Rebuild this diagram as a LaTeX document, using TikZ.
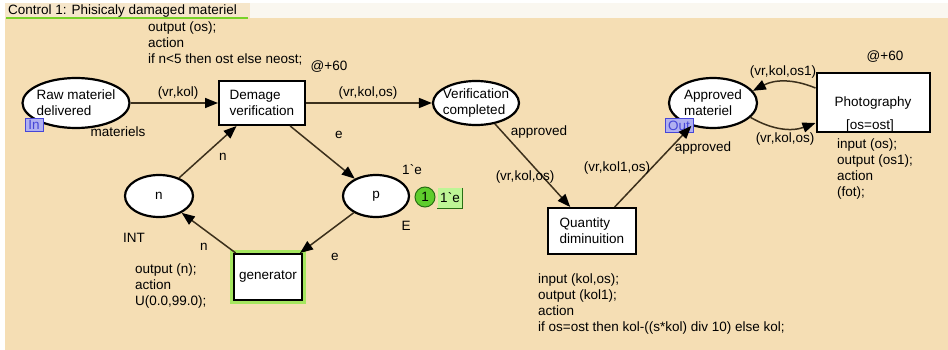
\documentclass[tikz,border=0pt]{standalone}
\usepackage{fontspec}
\setmainfont{Liberation Sans}
\usetikzlibrary{arrows.meta, shapes.geometric, positioning}

\definecolor{netbg}{RGB}{245,222,180}
\definecolor{tabbg}{RGB}{246,230,202}
\definecolor{stripbg}{RGB}{250,247,240}
\definecolor{tabline}{RGB}{120,210,40}
\definecolor{arcline}{RGB}{60,48,28}
\definecolor{portfill}{RGB}{176,176,240}
\definecolor{portblue}{RGB}{70,70,215}
\definecolor{tokgreen}{RGB}{95,205,45}
\definecolor{tokdark}{RGB}{40,110,20}
\definecolor{markfill}{RGB}{190,245,150}
\definecolor{glow}{RGB}{165,230,95}

\tikzset{
  every node/.style={font=\fontsize{13.5}{16}\selectfont, inner sep=0pt},
  place/.style={ellipse, draw=black, line width=2.2pt, fill=white},
  trans/.style={rectangle, draw=black, line width=2pt, fill=white, align=left},
  arc/.style={draw=arcline, line width=1.5pt, -{Triangle[length=13pt,width=10pt,color=black]}},
  port/.style={draw=portblue, fill=portfill, text=portblue, line width=1pt},
  code/.style={align=left, anchor=north west},
}

\begin{document}
\begin{tikzpicture}[x=1pt,y=-1pt]
\useasboundingbox (0,0) rectangle (948,350);
\fill[stripbg] (5,3) rectangle (948,18);
\fill[netbg] (5,18) rectangle (948,350);
\fill[tabbg] (5,3) rectangle (250,18);
\draw[tabline, line width=2pt] (6,18) -- (248,18);
\node[anchor=west] (title) at (8,11) {Control 1: Phisicaly damaged materiel};

% places
\node[place, minimum width=107pt, minimum height=50pt,
  label={[align=left]center:Raw materiel\\delivered}] (raw) at (76,103) {};
\node[place, minimum width=86pt, minimum height=44pt,
  label={[align=left]center:Verification\\completed}] (ver) at (476,103) {};
\node[place, minimum width=88pt, minimum height=50pt,
  label={[align=left]center:Approved\\materiel}] (appr) at (713,103) {};
\node[place, minimum width=68pt, minimum height=42pt] (n) at (159,196) {n};
\node[place, minimum width=66pt, minimum height=42pt] (p) at (376,196) {p};

% transitions
\node[trans, minimum width=86pt, minimum height=44pt] (dem) at (262,103) {Demage\\verification};
\node[trans, minimum width=88pt, minimum height=46pt] (qty) at (592,231) {Quantity\\diminuition};
\node[trans, minimum width=68pt, minimum height=46pt,
  preaction={draw=glow, line width=8pt}] (gen) at (268,277) {generator};
\node[trans, minimum width=113pt, minimum height=59pt] (photo) at (873,103) {Photography};

% ports and marking
\node[port, minimum width=18pt, minimum height=13pt] (inport) at (34,125) {In};
\node[port, minimum width=28pt, minimum height=14pt] (outport) at (679,126) {Out};
\node[circle, draw=tokdark, fill=tokgreen, line width=1pt, minimum size=20pt] (tok) at (425,197) {1};
\node[fill=markfill, minimum width=25pt, minimum height=20pt] (mark) at (450,198) {1\textasciigrave e};
\draw[tokdark, line width=1.2pt] (mark.north east) -- (mark.south east) -- (mark.south west);

% arcs
\draw[arc] (raw) -- (dem);
\draw[arc] (dem) -- (ver);
\draw[arc] (dem) -- (p);
\draw[arc] (p) -- (gen);
\draw[arc] (gen) -- (n);
\draw[arc] (n) -- (dem);
\draw[arc] (ver) -- (qty);
\draw[arc] (qty) -- (appr);
\draw[arc] ([yshift=15pt]photo.west) to[bend right=25] (appr.17);
\draw[arc] (appr.-21) to[bend right=25] ([yshift=-20pt]photo.west);

% inscriptions
\foreach \nm/\x/\y/\t in {a1/178/93/{(vr,kol)}, a2/368/93/{(vr,kol,os)},
  a3/339/135/e, a4/223/157/n, a5/204/247/n, a6/335/257/e,
  a7/539/132/approved, a8/525/177/{(vr,kol,os)}, a9/617/168/{(vr,kol1,os)},
  a10/703/148/approved, a11/783/72/{(vr,kol,os1)}, a12/785/139/{(vr,kol,os)},
  c1/118/132/materiels, c2/134/238/INT, c3/406/226/E,
  t1/329/67/@+60, t2/885/57/@+60, g1/870/126/{[os=ost]}} {
\node (\nm) at (\x,\y) {\t};
}
\node (init) at (412,170) {1\textasciigrave e};

% code segments
\node[code] (cdem) at (148,22) {output (os);\\action\\if n<5 then ost else neost;};
\node[code] (cgen) at (135,264) {output (n);\\action\\U(0.0,99.0);};
\node[code] (cqty) at (538,274) {input (kol,os);\\output (kol1);\\action\\if os=ost then kol-((s*kol) div 10) else kol;};
\node[code] (cphoto) at (837,139) {input (os);\\output (os1);\\action\\(fot);};
\end{tikzpicture}
\end{document}
